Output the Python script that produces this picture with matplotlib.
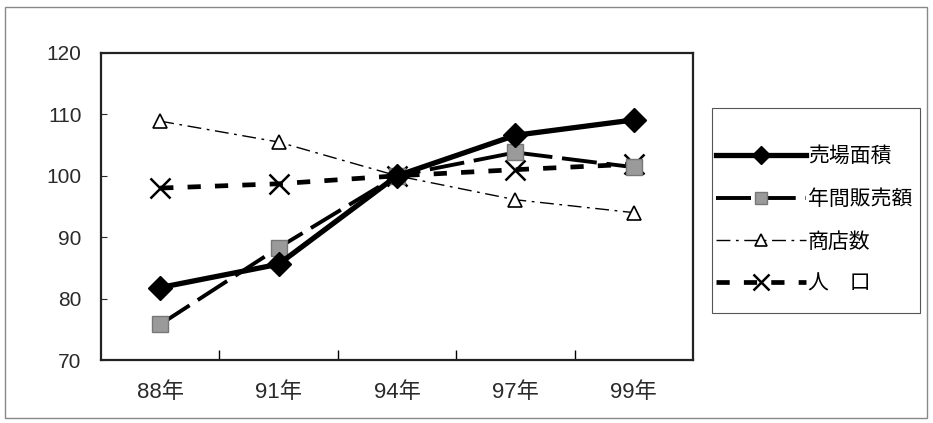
import matplotlib.pyplot as plt
from matplotlib.patches import Rectangle

plt.rcParams['font.family'] = ['Liberation Sans', 'Noto Sans CJK JP']

years = ["88年", "91年", "94年", "97年", "99年"]
floor_area = [81.8, 85.6, 100, 106.6, 109.1]
annual_sales = [75.8, 88.3, 100, 103.8, 101.4]
store_count = [108.9, 105.5, 100, 96.1, 94.0]
population = [98.0, 98.7, 100, 101.0, 101.9]

W, H = 933, 423
fig = plt.figure(figsize=(W / 100, H / 100), dpi=100)
ax = fig.add_axes([101 / W, 1 - 360 / H, 592 / W, 307 / H])
x = range(len(years))

ax.plot(x, floor_area, color="black", lw=3.8, marker="D", ms=12,
        mfc="black", mec="black", label="売場面積", zorder=5)
ax.plot(x, annual_sales, color="black", lw=2.8, dashes=(9, 2.5),
        marker="s", ms=11, mfc="#9a9a9a", mec="#777777", label="年間販売額", zorder=4)
ax.plot(x, store_count, color="black", lw=1.0, dashes=(10, 4, 2, 4),
        marker="^", ms=10, mfc="white", mec="black", mew=1.2, label="商店数", zorder=3)
ax.plot(x, population, color="black", lw=3.4, dashes=(2.8, 3.0),
        marker="x", ms=14, mew=1.8, mec="black", label="人　口", zorder=3)

ax.set_xlim(-0.5, len(years) - 0.5)
ax.set_ylim(70, 120)
ax.set_yticks(range(70, 121, 10))
ax.set_xticks(list(x))
ax.set_xticklabels(years)
ax.set_xticks([i + 0.5 for i in range(len(years) - 1)], minor=True)
ax.tick_params(axis="x", which="major", length=0, pad=16, labelsize=16, colors="#2a2a2a")
ax.tick_params(axis="x", which="minor", direction="in", length=7, width=1)
ax.tick_params(axis="y", direction="in", length=4, pad=14, labelsize=15, colors="#2a2a2a")
for s in ax.spines.values():
    s.set_linewidth(1.6)
    s.set_color("#222222")

# legend entries without frame, box drawn separately (tight left, tall top/bottom)
leg = ax.legend(loc="center left", bbox_to_anchor=(1.039, 0.456), frameon=False,
                fontsize=15, handlelength=4.3, handletextpad=0.1, labelspacing=1.1,
                borderpad=0, borderaxespad=0, markerscale=0.8)
fig.patches.append(Rectangle((712 / W, 1 - 313 / H), 208 / W, 205 / H,
                             transform=fig.transFigure, fill=False,
                             edgecolor="#555555", lw=0.8))

# outer frame of the chart
fig.patches.append(Rectangle((5 / W, 5 / H), 922 / W, 411 / H,
                             transform=fig.transFigure, fill=False,
                             edgecolor="#888888", lw=1.0))

fig.savefig("out.png", dpi=100)
